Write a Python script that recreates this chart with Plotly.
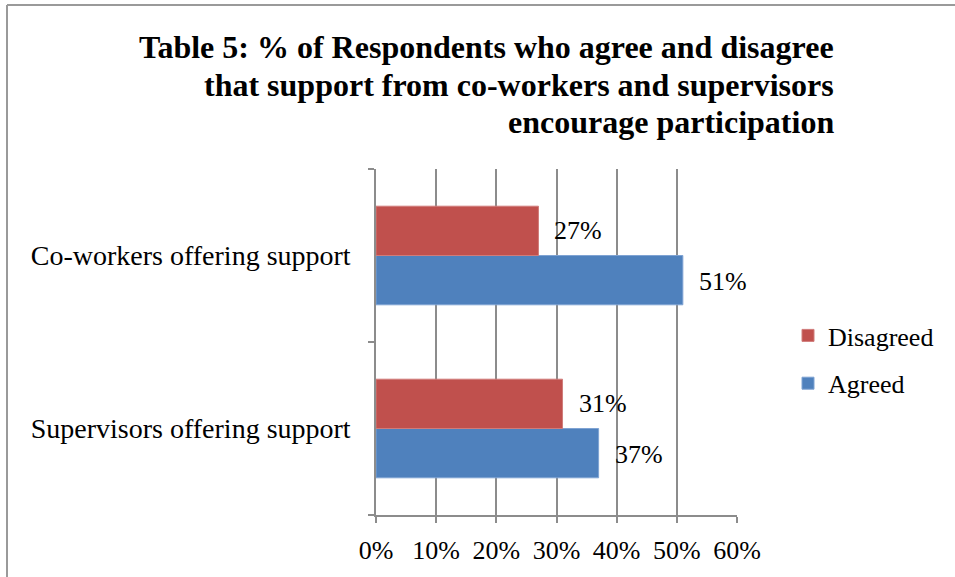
import plotly.graph_objects as go

categories = ["Supervisors offering support", "Co-workers offering support"]
agreed = [37, 51]
disagreed = [31, 27]
x_ticks = [0, 10, 20, 30, 40, 50, 60]
x_tick_labels = ["0%", "10%", "20%", "30%", "40%", "50%", "60%"]

title_lines = [
    "Table 5: % of Respondents who agree and disagree",
    "that support from co-workers and supervisors",
    "encourage participation",
]

BLUE = "#4F81BD"
RED = "#C0504D"
GRID = "#8C8C8C"
LABEL_FONT = dict(family="Liberation Serif", size=26, color="black")
CAT_FONT = dict(family="Liberation Serif", size=28, color="black")

W, H = 955, 577
L, R, T, B = 376, 218, 169, 62
plot_w = W - L - R
plot_h = H - T - B

fig = go.Figure()
fig.add_trace(go.Bar(
    y=categories, x=agreed, name="Agreed", orientation="h",
    legendgroup="a", legendrank=2,
    marker=dict(color=BLUE, line=dict(color="#7FA3D3", width=1)),
))
fig.add_trace(go.Bar(
    y=categories, x=disagreed, name="Disagreed", orientation="h",
    legendgroup="d", legendrank=1,
    marker=dict(color=RED, line=dict(color="#D07C7A", width=1)),
))

# value labels just past the end of each bar
annotations = []
for series, shift in ((agreed, -26), (disagreed, 25)):
    for cat, val in zip(categories, series):
        annotations.append(dict(
            x=val, y=cat, xref="x", yref="y", text=f"{val}%",
            xanchor="left", yanchor="middle", xshift=14, yshift=shift,
            showarrow=False, font=LABEL_FONT,
        ))

# chart title, right-aligned above the plot, one line per annotation
for i, line in enumerate(title_lines):
    center_px = 47 + i * 37.5
    annotations.append(dict(
        x=(836 - L) / plot_w, y=(H - B - center_px) / plot_h,
        xref="paper", yref="paper",
        text=line, xanchor="right", yanchor="middle", align="right",
        showarrow=False,
        font=dict(family="Liberation Serif", size=32, color="black", weight="bold"),
    ))

# chart-area frame (left and top edges)
shapes = [
    dict(type="line", xref="paper", yref="paper",
         x0=(7 - L) / plot_w, x1=(7 - L) / plot_w,
         y0=(H - B - H) / plot_h, y1=(H - B - 5) / plot_h,
         line=dict(color="#9A9A9A", width=2)),
    dict(type="line", xref="paper", yref="paper",
         x0=(7 - L) / plot_w, x1=(W - L) / plot_w,
         y0=(H - B - 5) / plot_h, y1=(H - B - 5) / plot_h,
         line=dict(color="#9A9A9A", width=2)),
]

fig.update_layout(
    width=W, height=H,
    margin=dict(l=L, r=R, t=T, b=B, autoexpand=False),
    paper_bgcolor="white", plot_bgcolor="white",
    barmode="group", bargap=0.43, bargroupgap=0,
    showlegend=True,
    legend=dict(
        traceorder="grouped", font=LABEL_FONT,
        x=(788 - L) / plot_w, xanchor="left",
        y=(H - B - 312) / plot_h, yanchor="top",
        bgcolor="rgba(0,0,0,0)", itemwidth=30, tracegroupgap=11,
    ),
    annotations=annotations,
    shapes=shapes,
    xaxis=dict(
        range=[0, 60], tickvals=x_ticks, ticktext=x_tick_labels,
        showgrid=True, gridcolor=GRID, gridwidth=1.5, zeroline=False,
        showline=True, linecolor=GRID, linewidth=1.5,
        ticks="outside", ticklen=6, tickcolor=GRID, tickwidth=1.5,
        tickfont=LABEL_FONT, ticklabelstandoff=5, fixedrange=True,
    ),
    yaxis=dict(
        type="category", categoryorder="array", categoryarray=categories,
        showline=True, linecolor=GRID, linewidth=1.5,
        ticks="outside", tickson="boundaries", ticklen=6, tickcolor=GRID,
        tickwidth=1.5, tickfont=CAT_FONT, ticklabelstandoff=18,
        showgrid=False, zeroline=False, fixedrange=True,
    ),
)

fig.write_html("out.html")
